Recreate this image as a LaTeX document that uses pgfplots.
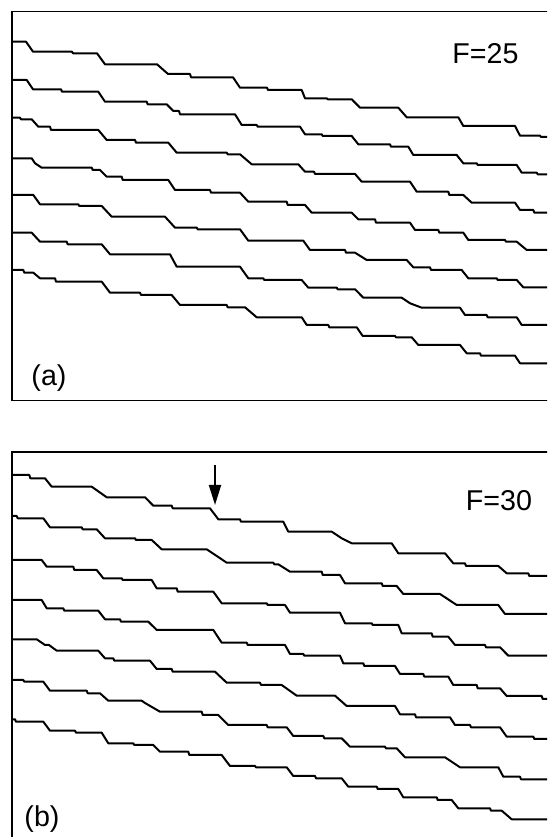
\documentclass[border=0pt]{standalone}
\usepackage{fontspec}
\setmainfont{Liberation Sans}
\usepackage{pgfplots}
\pgfplotsset{compat=1.18}
\usetikzlibrary{arrows.meta}

\begin{document}
\begin{tikzpicture}
\useasboundingbox (0,0) rectangle (410.25pt,627.75pt);
\clip (0,0) rectangle (410.25pt,627.75pt);
\pgfplotsset{panel/.style={scale only axis, width=401.25pt, height=291.75pt, xmin=12, xmax=547, hide axis, clip=false, anchor=south west},
  curve/.style={black, line width=1.5pt, line join=round}}
% ---------------- panel (a) ----------------
\begin{axis}[panel, at={(9pt,327.375pt)}, ymin=-400.5, ymax=-11.5]
\draw[line width=1.4pt] (rel axis cs:1.05,0) -- (rel axis cs:0,0) -- (rel axis cs:0,1) -- (rel axis cs:1.05,1);
\addplot[curve] coordinates {(12,-41.7) (26,-41.7) (33,-51.7) (72,-51.7) (73,-53.3) (97,-53.3) (105,-64.3) (157,-64.3) (168,-74) (190,-74) (191,-77.3) (233,-77.3) (240,-87.7) (267,-87.7) (268,-90) (301.7,-90) (305,-98.3) (326.7,-98.3) (327.7,-99.3) (351.7,-99.3) (360,-107.7) (398.3,-107.7) (406.7,-117.3) (458.3,-117.3) (463.3,-126) (515,-126) (520,-135.7) (540,-135.7) (541,-137) (547,-137)};
\addplot[curve] coordinates {(12,-80) (26.7,-80) (33,-89.3) (61,-89.3) (62,-91.7) (98.3,-91.7) (105,-101.7) (146.7,-101.7) (147.7,-104.3) (166.7,-104.3) (173.3,-111) (179,-111) (180,-114.3) (235,-114.3) (241.7,-125) (256.7,-125) (257.7,-126.7) (300,-126.7) (305,-134.3) (321.7,-134.3) (322.7,-136) (351.7,-136) (358.3,-144.3) (390,-144.3) (391,-146.7) (408.3,-146.7) (413.3,-155) (456.7,-155) (463.3,-163.3) (476.7,-163.3) (477.7,-165) (516.7,-165) (521.7,-172.7) (536.7,-172.7) (537.7,-174.3) (547,-174.3)};
\addplot[curve] coordinates {(12,-117.7) (20,-117.7) (21,-119.3) (31.7,-119.3) (38.3,-126.7) (50,-126.7) (51,-130) (98.3,-130) (106.7,-140) (135,-140) (136,-142.7) (168.3,-142.7) (176.7,-152.7) (226.7,-152.7) (227.7,-154.3) (240,-154.3) (251.7,-164.3) (298.3,-164.3) (305,-171.7) (314,-171.7) (315,-174) (355,-174) (361.7,-181.7) (410,-181.7) (416.7,-191.7) (448.3,-191.7) (449.3,-195) (463.3,-195) (471.7,-202.7) (515,-202.7) (520,-210) (533.3,-210) (534.3,-212.7) (547,-212.7)};
\addplot[curve] coordinates {(12,-158.3) (31.7,-158.3) (35,-163.3) (41.7,-167.7) (91.7,-167.7) (92.7,-170) (100,-170) (106.7,-176.7) (121.7,-176.7) (122.7,-180) (168.3,-180) (175,-190) (210,-190) (211,-192.7) (240,-192.7) (248.3,-201.7) (286.7,-201.7) (287.7,-205) (305,-205) (311.7,-212.7) (351.7,-212.7) (358.3,-219.3) (375,-219.3) (376,-222.7) (410,-222.7) (415,-230) (438.3,-230) (439.3,-232.7) (463.3,-232.7) (468.3,-240) (505,-240) (506,-241.7) (516.7,-241.7) (526.7,-250) (547,-250)};
\addplot[curve] coordinates {(12,-195) (33.3,-195) (40,-204.3) (78.3,-204.3) (79.3,-206) (101.7,-206) (111.7,-216.7) (165,-216.7) (175,-227.7) (196.7,-227.7) (197.7,-229.3) (240,-229.3) (248.3,-240.7) (303.3,-240.7) (310,-250) (345,-250) (346,-252.7) (355,-252.7) (366.7,-260) (406.7,-260) (413.3,-267.3) (430,-267.3) (431,-270) (461.7,-270) (468.3,-278.3) (496.7,-278.3) (497.7,-280) (516.7,-280) (523.3,-287.3) (547,-287.3)};
\addplot[curve] coordinates {(12,-232.7) (31.7,-232.7) (40,-241.7) (66.7,-241.7) (67.7,-244.3) (101.7,-244.3) (110,-254.3) (170,-254.3) (176.7,-266.7) (240,-266.7) (248.3,-278.3) (263.3,-278.3) (264.3,-280) (301.7,-280) (308.3,-287.7) (336.7,-287.7) (337.7,-289.3) (355,-289.3) (363.3,-297.7) (401.7,-297.7) (410,-303.3) (421.7,-307.7) (460,-307.7) (465,-315) (486.7,-315) (487.7,-317.3) (516.7,-317.3) (521.7,-325) (547,-325)};
\addplot[curve] coordinates {(12,-270) (23.3,-270) (24.3,-272.7) (33.3,-272.7) (40,-278.3) (55,-278.3) (56,-281.7) (101.7,-281.7) (110,-292.7) (140,-292.7) (141,-295) (171.7,-295) (180,-305) (226.7,-305) (227.7,-307.3) (245,-307.3) (256.7,-317.3) (301.7,-317.3) (306.7,-325) (328.3,-325) (329.3,-327.3) (356.7,-327.3) (362.7,-336) (395,-336) (396,-337.3) (411.7,-337.3) (418.3,-345) (460,-345) (466.7,-353.3) (480,-353.3) (481,-355.7) (515,-355.7) (520,-363.3) (547,-363.3)};
\node[font=\fontsize{21.5}{25}\selectfont] at (axis cs:485.5,-54) {F=25};
\node[font=\fontsize{21.5}{25}\selectfont] at (axis cs:49,-378) {(a)};
\end{axis}
% ---------------- panel (b) ----------------
\begin{axis}[panel, at={(9pt,-2.775pt)}, ymin=-840.7, ymax=-451.7]
\draw[line width=1.4pt] (rel axis cs:1.05,0) -- (rel axis cs:0,0) -- (rel axis cs:0,1) -- (rel axis cs:1.05,1);
\addplot[curve] coordinates {(12,-475) (29.3,-475) (30.3,-478.3) (45,-478.3) (51.7,-486.7) (91.7,-486.7) (106.7,-497.3) (145,-497.3) (153.3,-505.7) (171.7,-505.7) (172.7,-508.3) (210,-508.3) (218.3,-519.3) (240,-519.3) (241,-521.7) (283.3,-521.7) (288.3,-531.7) (331.7,-531.7) (341.7,-538.3) (351.7,-543.3) (391.7,-543.3) (398.3,-553.3) (445,-553.3) (453.3,-563.3) (465,-563.3) (466,-566) (498.3,-566) (506.7,-573.3) (528.3,-573.3) (529.3,-576) (547,-576)};
\addplot[curve] coordinates {(12,-516) (16.7,-516) (17.7,-518.3) (43.3,-518.3) (50,-527.3) (81.7,-527.3) (82.7,-529.3) (96.7,-529.3) (105,-538.3) (135,-538.3) (136,-540) (151.7,-540) (161.7,-549.3) (206.7,-549.3) (226.7,-562.7) (273.3,-562.7) (274.3,-564.3) (278.3,-564.3) (290,-571.7) (321.7,-571.7) (322.7,-575) (340,-575) (345,-583.3) (381.7,-583.3) (382.7,-586) (396.7,-586) (403.3,-594) (440,-594) (456.7,-605) (498.3,-605) (505,-614) (547,-614)};
\addplot[curve] coordinates {(12,-560) (41.7,-560) (46.7,-566.7) (73.3,-566.7) (74.3,-570) (96.7,-570) (103.3,-578.3) (121.7,-578.3) (122.7,-580) (151.7,-580) (156.7,-588.3) (176.7,-588.3) (177.7,-591.7) (213.3,-591.7) (221.7,-603.3) (266.7,-603.3) (267.7,-605) (285,-605) (290,-612.7) (340,-612.7) (345,-623.3) (371.7,-623.3) (372.7,-625) (398.3,-625) (401.7,-633.3) (431.7,-633.3) (432.7,-636.7) (448.3,-636.7) (455,-645) (485,-645) (486,-647.3) (500,-647.3) (508.3,-655.7) (547,-655.7)};
\addplot[curve] coordinates {(12,-600) (41.7,-600) (46.7,-608.3) (63.3,-608.3) (64.3,-610.7) (98.3,-610.7) (105,-619.3) (120,-619.3) (121,-621.7) (148.3,-621.7) (156.7,-630) (213.3,-630) (221.7,-642.7) (246.7,-642.7) (247.7,-645) (285,-645) (290,-654) (303.3,-654) (304.3,-655.7) (340,-655.7) (343.3,-663.3) (363.3,-663.3) (364.3,-666) (395,-666) (400,-674) (423.3,-674) (424.3,-676.7) (448.3,-676.7) (453.3,-685) (476.7,-685) (477.7,-688.3) (500,-688.3) (506.7,-696) (541.7,-696) (542.7,-699) (547,-699)};
\addplot[curve] coordinates {(12,-639.3) (36.7,-639.3) (45,-645) (49,-645) (56.7,-650.7) (98.3,-650.7) (105,-658.3) (113.3,-658.3) (114.3,-660.7) (150,-660.7) (156.7,-669) (171.7,-669) (172.7,-671.7) (215,-671.7) (226.7,-682.7) (260,-682.7) (261,-685) (281.7,-685) (296.7,-695.7) (335,-695.7) (346.7,-706) (395,-706) (400,-714.3) (415,-714.3) (416,-717.3) (450,-717.3) (455,-725) (470,-725) (471,-727.3) (500,-727.3) (506.7,-736.7) (533.3,-736.7) (534.3,-739) (547,-739)};
\addplot[curve] coordinates {(12,-680) (23.3,-680) (24.3,-681.7) (43.3,-681.7) (50,-690.7) (86.7,-690.7) (87.7,-693.3) (100,-693.3) (108.3,-700.7) (141.7,-700.7) (145,-703) (160,-711.7) (201.7,-711.7) (202.7,-715) (218.3,-715) (228.3,-725) (266.7,-725) (267.7,-727.3) (286.7,-727.3) (293.3,-736) (323.3,-736) (324.3,-738.3) (341.7,-738.3) (350,-746.7) (385,-746.7) (386,-748.3) (396.7,-748.3) (405,-757.3) (445,-757.3) (460,-767.3) (498.3,-767.3) (503.3,-776.7) (520,-776.7) (521,-779.3) (547,-779.3)};
\addplot[curve] coordinates {(12,-719.3) (15,-719.3) (16,-721.7) (43.3,-721.7) (50,-730.7) (75,-730.7) (76,-732.7) (101.7,-732.7) (108.3,-743.3) (133.3,-743.3) (134.3,-745) (153.3,-745) (160,-751.7) (188.3,-751.7) (189.3,-755) (221.7,-755) (230,-766) (255,-766) (256,-767.3) (286.7,-767.3) (293.3,-776) (315,-776) (316,-778.3) (341.7,-778.3) (348.3,-786.7) (376.7,-786.7) (377.7,-789) (398.3,-789) (403.3,-797.3) (436.7,-797.3) (437.7,-800) (451.7,-800) (458.3,-808.3) (490,-808.3) (491,-810.7) (501.7,-810.7) (511.7,-819.3) (547,-819.3)};
\draw[line width=1.4pt, -{Triangle[length=15pt,width=9pt]}] (axis cs:215,-465) -- (axis cs:215,-505);
\node[font=\fontsize{21.5}{25}\selectfont] at (axis cs:499,-501) {F=30};
\node[font=\fontsize{21.5}{25}\selectfont] at (axis cs:42,-819) {(b)};
\end{axis}
\end{tikzpicture}
\end{document}
